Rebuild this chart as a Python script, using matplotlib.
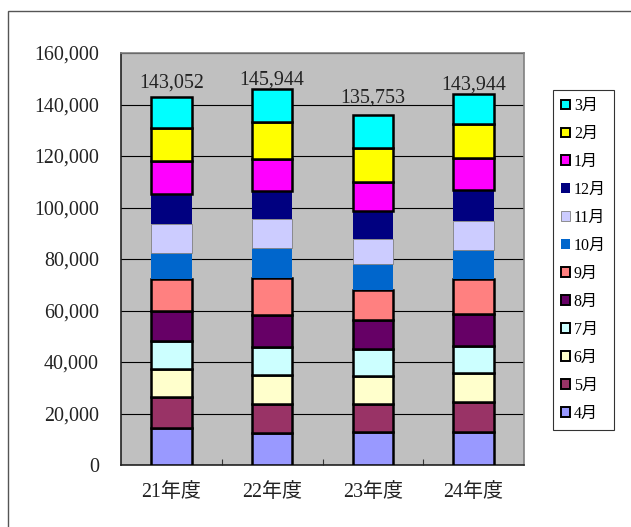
import numpy as np
import matplotlib.pyplot as plt
from matplotlib.patches import Rectangle
from matplotlib.ticker import FuncFormatter, FixedLocator

plt.rcParams['font.family'] = ['Liberation Serif', 'Noto Sans CJK JP']

# 年度と月
years = ['21年度', '22年度', '23年度', '24年度']
months = ['4月', '5月', '6月', '7月', '8月', '9月',
          '10月', '11月', '12月', '1月', '2月', '3月']

# 月別の値（図から読み取り、単位：件）
values = {
    '4月':  [14450, 12510, 12900, 12740],
    '5月':  [12050, 11270, 10880, 11660],
    '6月':  [10870, 11110, 10720, 11150],
    '7月':  [10730, 11030, 10370, 10600],
    '8月':  [11650, 12160, 11270, 12590],
    '9月':  [12320, 14380, 11770, 13330],
    '10月': [10370, 11920, 10260, 11340],
    '11月': [10990, 11000, 9710, 11310],
    '12月': [11930, 10990, 10720, 12040],
    '1月':  [12670, 12590, 11270, 12590],
    '2月':  [12970, 14370, 13360, 13210],
    '3月':  [12052, 12614, 12523, 11384],
}
totals = [143052, 145944, 135753, 143944]

colors = {
    '4月': '#9999FF', '5月': '#993366', '6月': '#FFFFCC', '7月': '#CCFFFF',
    '8月': '#660066', '9月': '#FF8080', '10月': '#0066CC', '11月': '#CCCCFF',
    '12月': '#000080', '1月': '#FF00FF', '2月': '#FFFF00', '3月': '#00FFFF',
}
# 枠線（10〜12月は枠なし）
edges = {m: ('black', 1.8) for m in months}
edges['10月'] = ('none', 0)
edges['12月'] = ('none', 0)
edges['11月'] = ('#808080', 0.6)

# 合計ラベルの上下位置（ポイント）
label_offsets = [9.5, 6.5, 12.5, 6.5]

fig = plt.figure(figsize=(6.31, 5.27), dpi=100)
ax = fig.add_axes([121 / 631, 62 / 527, 403 / 631, 412 / 527])
ax.set_facecolor('#C0C0C0')

x = np.arange(len(years))
bottom = np.zeros(len(years))
handles = []
for m in months:
    ec, lw = edges[m]
    b = ax.bar(x, values[m], width=0.4, bottom=bottom, color=colors[m],
               edgecolor=ec, linewidth=lw, label=m, zorder=3)
    handles.append(b)
    bottom += np.array(values[m])

for i, t in enumerate(totals):
    ax.annotate(f'{t:,}', (x[i], bottom[i]), xytext=(0, label_offsets[i]),
                textcoords='offset points', ha='center', va='center',
                fontsize=14.4, color='#222222', zorder=4)

ax.set_xlim(-0.5, 3.5)
ax.set_ylim(0, 160000)
ax.set_yticks(np.arange(0, 160001, 20000))
ax.yaxis.set_major_formatter(FuncFormatter(lambda v, p: f'{int(v):,}'))
ax.grid(axis='y', color='black', linewidth=0.8, zorder=1)
ax.tick_params(axis='y', length=0, pad=16, labelsize=14.4, labelcolor='#222222')
ax.set_xticks(x)
ax.set_xticklabels(years)
ax.tick_params(axis='x', which='major', length=0, pad=13, labelsize=14.4,
               labelcolor='#222222')
ax.xaxis.set_minor_locator(FixedLocator([0.5, 1.5, 2.5]))
ax.tick_params(axis='x', which='minor', direction='in', length=4, width=0.8,
               color='#333333')

for s in ['top', 'right']:
    ax.spines[s].set_color('#808080')
    ax.spines[s].set_linewidth(1.2)
for s in ['left', 'bottom']:
    ax.spines[s].set_color('#222222')
    ax.spines[s].set_linewidth(1.2)

leg = fig.legend(handles[::-1], months[::-1], loc='upper left',
                 bbox_to_anchor=(553 / 631, 1 - 90 / 527),
                 fontsize=11.5, frameon=True, fancybox=False,
                 edgecolor='black', handlelength=0.55, handleheight=0.55,
                 handletextpad=0.25, labelspacing=0.75, borderpad=0.5,
                 borderaxespad=0)
leg.get_frame().set_linewidth(0.8)
for h in leg.legend_handles:
    if h.get_linewidth() > 1:
        h.set_linewidth(1.4)

# 外枠
fig.patches.append(Rectangle((8 / 631, -0.1), 1.2, 1 - 11 / 527 + 0.1,
                             transform=fig.transFigure, fill=False,
                             edgecolor='#555555', linewidth=1.0))

fig.savefig('out.png', dpi=100)
